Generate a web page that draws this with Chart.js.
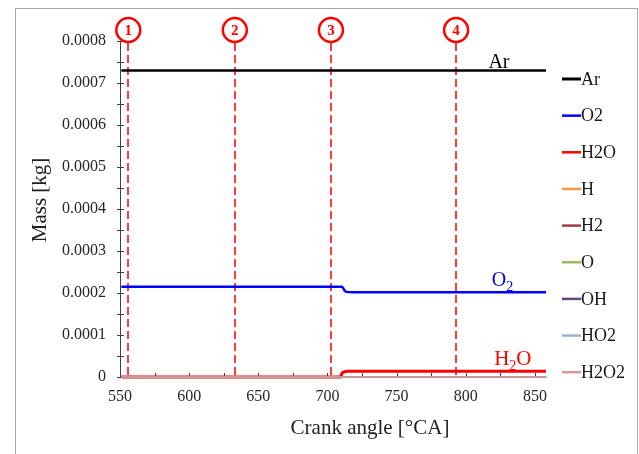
<!DOCTYPE html>
<html><head><meta charset="utf-8">
<script src="https://cdn.jsdelivr.net/npm/chart.js@4/dist/chart.umd.min.js"></script>
<style>html,body{margin:0;padding:0;background:#fff;}canvas{display:block;}</style>
</head><body>
<canvas id="c" width="639" height="454"></canvas>
<script>
// ---- data ----
const crankAngle = [551, 700, 709.5, 710.5, 711.5, 712.5, 713.5, 715, 720, 858];
const arMass   = [0.00073, 0.00073, 0.00073, 0.00073, 0.00073, 0.00073, 0.00073, 0.00073, 0.00073, 0.00073];
const o2Mass   = [0.000215, 0.000215, 0.000215, 0.000215, 0.000211, 0.000205, 0.000203, 0.0002025, 0.000202, 0.000202];
const h2oMass  = [0, 0, 0, 0.000009, 0.0000115, 0.0000126, 0.0000131, 0.0000134, 0.0000135, 0.0000135];
const hMass    = [0, 0, 0, 0, 0, 0, 0, 0, 0, 0];
const h2Mass   = [0, 0, 0, 0, 0, 0, 0, 0, 0, 0];
const oMass    = [0, 0, 0, 0, 0, 0, 0, 0, 0, 0];
const ohMass   = [0, 0, 0, 0, 0, 0, 0, 0, 0, 0];
const ho2Mass  = [0, 0, 0, 0, 0, 0, 0, 0, 0, 0];
const h2o2Mass = [0, 0, 0, 0, 0, 0, 0, 0, 0, 0];
const speciesNames = ['Ar', 'O2', 'H2O', 'H', 'H2', 'O', 'OH', 'HO2', 'H2O2'];
const speciesColors = ['#000000', '#0000ff', '#ff0000', '#f79646', '#a0403c', '#9bbb59', '#604a7b', '#95b3d7', '#d99694'];
const markerAngles = [556, 633, 702.5, 793];
const markerLabels = ['1', '2', '3', '4'];
const xTickLabels = ['550', '600', '650', '700', '750', '800', '850'];
const yTickLabels = ['0', '0.0001', '0.0002', '0.0003', '0.0004', '0.0005', '0.0006', '0.0007', '0.0008'];
const xTitle = 'Crank angle [°CA]';
const yTitle = 'Mass [kg]';

const seriesValues = [arMass, o2Mass, h2oMass, hMass, h2Mass, oMass, ohMass, ho2Mass, h2o2Mass];
const seriesWidths = [2.5, 2.5, 3, 1.5, 1.5, 1.5, 1.5, 1.5, 1.5];

const datasets = speciesNames.map((name, i) => ({
  label: name,
  data: crankAngle.map((a, k) => ({x: a, y: seriesValues[i][k]})),
  borderColor: speciesColors[i],
  backgroundColor: speciesColors[i],
  borderWidth: seriesWidths[i],
  pointRadius: 0,
  tension: 0,
  cubicInterpolationMode: 'default',
  clip: 6,
  order: 9 - i
}));

const SERIF = '"Liberation Serif", "Times New Roman", serif';

const decor = {
  id: 'decor',
  beforeDraw(chart) {
    const c = chart.ctx;
    c.save();
    c.fillStyle = '#fff';
    c.fillRect(0, 0, chart.width, chart.height);
    c.strokeStyle = '#a6a6a6';
    c.lineWidth = 1;
    c.strokeRect(15.5, 8.5, 622, 470);
    c.restore();
  },
  beforeDatasetsDraw(chart) {
    const c = chart.ctx, xs = chart.scales.x, ys = chart.scales.y;
    const bottom = chart.chartArea.bottom;
    c.save();
    c.strokeStyle = 'rgba(255,40,40,0.9)';
    c.lineWidth = 2;
    c.setLineDash([8, 4]);
    markerAngles.forEach(a => {
      const px = Math.round(xs.getPixelForValue(a));
      c.beginPath(); c.moveTo(px, 43); c.lineTo(px, bottom); c.stroke();
    });
    c.setLineDash([]);
    // axis ticks
    c.strokeStyle = '#404040';
    c.lineWidth = 1;
    for (let v = 0; v <= 0.00080001; v += 0.00005) {
      const py = Math.round(ys.getPixelForValue(v)) + 0.5;
      c.beginPath(); c.moveTo(117, py); c.lineTo(124, py); c.stroke();
    }
    for (let a = 575; a < 858; a += 25) {
      const px = Math.round(xs.getPixelForValue(a)) + 0.5;
      c.beginPath(); c.moveTo(px, bottom); c.lineTo(px, bottom - 4); c.stroke();
    }
    c.restore();
  },
  afterDraw(chart) {
    const c = chart.ctx, xs = chart.scales.x, ys = chart.scales.y;
    c.save();
    // circled markers
    markerAngles.forEach((a, i) => {
      const px = xs.getPixelForValue(a);
      c.beginPath(); c.arc(px, 30, 12, 0, Math.PI * 2);
      c.fillStyle = '#fff'; c.fill();
      c.strokeStyle = '#ff0000'; c.lineWidth = 2.5; c.stroke();
      c.fillStyle = '#ff0000';
      c.font = 'bold 15px ' + SERIF;
      c.textAlign = 'center'; c.textBaseline = 'middle';
      c.fillText(markerLabels[i], px, 31);
    });
    // series annotations
    c.textBaseline = 'alphabetic';
    c.textAlign = 'left';
    // Ar
    c.fillStyle = '#000';
    c.font = '20px ' + SERIF;
    let px = xs.getPixelForValue(824), py = ys.getPixelForValue(arMass[arMass.length - 1]) - 2.5;
    let w = c.measureText('Ar').width;
    c.fillText('Ar', px - w / 2, py);
    // O2
    c.fillStyle = '#0000ff';
    px = xs.getPixelForValue(826.5); py = ys.getPixelForValue(o2Mass[o2Mass.length - 1]) - 6.5;
    c.font = '20px ' + SERIF; const wO = c.measureText('O').width;
    c.font = '14px ' + SERIF; const w2 = c.measureText('2').width;
    let x0 = px - (wO + w2) / 2;
    c.font = '20px ' + SERIF; c.fillText('O', x0, py);
    c.font = '14px ' + SERIF; c.fillText('2', x0 + wO, py + 5);
    // H2O
    c.fillStyle = '#ff0000';
    px = xs.getPixelForValue(834); py = ys.getPixelForValue(h2oMass[h2oMass.length - 1]) - 6;
    c.font = '21px ' + SERIF; const wH = c.measureText('H').width; const wO2 = c.measureText('O').width;
    c.font = '14px ' + SERIF; const ws = c.measureText('2').width;
    x0 = px - (wH + ws + wO2) / 2;
    c.font = '21px ' + SERIF; c.fillText('H', x0, py);
    c.font = '14px ' + SERIF; c.fillText('2', x0 + wH, py + 5);
    c.font = '21px ' + SERIF; c.fillText('O', x0 + wH + ws, py);
    // legend
    c.font = '18px ' + SERIF;
    c.textBaseline = 'middle';
    speciesNames.forEach((n, i) => {
      const y = 79 + i * 36.65;
      c.strokeStyle = speciesColors[i];
      c.lineWidth = i === 0 ? 3 : 2.5;
      c.beginPath(); c.moveTo(562, y); c.lineTo(581, y); c.stroke();
      c.fillStyle = '#1a1a1a';
      c.fillText(n, 581, y + 1);
    });
    // axis titles
    c.fillStyle = '#1f1f1f';
    c.font = '21px ' + SERIF;
    c.textAlign = 'center';
    c.fillText(xTitle, 370, 428);
    c.translate(40, 200);
    c.rotate(-Math.PI / 2);
    c.fillText(yTitle, 0, 0);
    c.restore();
  }
};

new Chart(document.getElementById('c'), {
  type: 'line',
  data: { datasets },
  plugins: [decor],
  options: {
    responsive: false,
    animation: false,
    layout: { padding: { top: 41, right: 93, left: 0, bottom: 0 } },
    plugins: { legend: { display: false }, tooltip: { enabled: false } },
    scales: {
      x: {
        type: 'linear', min: 550, max: 858,
        afterFit: s => { s.height = 77; },
        grid: { display: false, drawTicks: false },
        border: { display: true, color: '#b0b0b0', width: 1 },
        ticks: {
          stepSize: 50, includeBounds: false, padding: 10,
          color: '#262626', font: { family: SERIF, size: 16 },
          callback: v => xTickLabels[Math.round((v - 550) / 50)]
        }
      },
      y: {
        type: 'linear', min: 0, max: 0.0008,
        afterFit: s => { s.width = 120; },
        grid: { display: false, drawTicks: false },
        border: { display: true, color: '#404040', width: 1 },
        ticks: {
          stepSize: 0.0001, padding: 14,
          color: '#262626', font: { family: SERIF, size: 16 },
          callback: v => yTickLabels[Math.round(v / 0.0001)]
        }
      }
    }
  }
});
</script>
</body></html>
